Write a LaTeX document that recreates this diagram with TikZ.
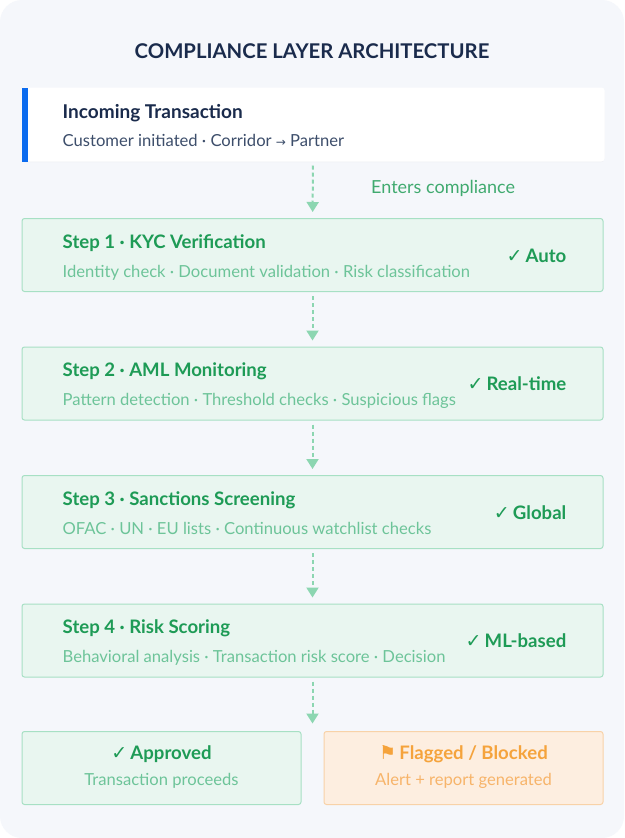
\documentclass[tikz,border=0pt]{standalone}
\usepackage{fontspec}
\setmainfont{Lato}
\newfontfamily\symfont{DejaVu Sans}
\usepackage{tikz}
\usetikzlibrary{positioning}
\usetikzlibrary{calc}
\usetikzlibrary{shadows}
\usetikzlibrary{arrows.meta}
\definecolor{pagebg}{HTML}{F5F7FB}
\definecolor{navy}{HTML}{1A2B4C}
\definecolor{navysub}{HTML}{3D4E6B}
\definecolor{barblue}{HTML}{0B6BEF}
\definecolor{stepfill}{HTML}{E9F6F0}
\definecolor{stepline}{HTML}{A7E0C4}
\definecolor{stepgreen}{HTML}{1E9B56}
\definecolor{subgreen}{HTML}{6DC499}
\definecolor{flowgreen}{HTML}{8CD6B1}
\definecolor{flagfill}{HTML}{FDEEE0}
\definecolor{flagline}{HTML}{F8D2A8}
\definecolor{flagorange}{HTML}{F5A33C}
\definecolor{flagsub}{HTML}{F7B46A}
\tikzset{
	box/.style={
		draw, line width=1pt, rounded corners=2.5pt, inner sep=0pt,
		minimum width=581pt, minimum height=73pt
	},
	stepbox/.style={box, fill=stepfill, draw=stepline},
	endbox/.style={box, minimum width=279pt},
	title/.style={font=\fontsize{18.6}{22}\selectfont\bfseries, text=navy, inner sep=0pt},
	subtitle/.style={font=\fontsize{16.6}{20}\selectfont, text=navysub, inner sep=0pt},
	steptitle/.style={title, text=stepgreen},
	stepsub/.style={subtitle, text=subgreen},
	steptag/.style={title, text=stepgreen},
	flow/.style={
		draw=flowgreen, line width=2pt, dash pattern=on 4pt off 3pt,
		-{Triangle[width=12pt,length=10pt,fill=flowgreen,sep=0pt]},
		shorten <=4pt
	}
}
\def\chk{{\symfont\fontsize{19}{20}\selectfont ✓}\,}
\def\stepinfo#1#2#3#4{%
	\node[steptitle, anchor=base west] (#1-title) at ($(#1.north west)+(41,30)$) {#2};
	\node[stepsub, anchor=base west] (#1-sub) at ($(#1.north west)+(41,59)$) {#3};
	\node[steptag, anchor=base east] (#1-tag) at ($(#1.north east)+(-37,44)$) {\chk#4};
}

\begin{document}
\begin{tikzpicture}[x=1pt, y=-1pt, node distance=54.5pt]
% page
\fill[white] (0,0) rectangle (624,838);
\fill[pagebg, rounded corners=22pt] (0,0) rectangle (624,838);
\useasboundingbox (0,0) rectangle (624,838);

\node[font=\fontsize{20.3}{24}\selectfont\bfseries, text=navy, anchor=base, inner sep=0pt] (heading) at (312,58) {COMPLIANCE LAYER ARCHITECTURE};

% incoming transaction
\node[box, fill=white, draw=white, drop shadow={opacity=0.08, shadow xshift=0pt, shadow yshift=-1pt}, anchor=north west, minimum width=582pt] (inc) at (21.5,87.5) {};
\fill[barblue] (inc.north west) rectangle ($(inc.south west)+(6,0)$);
\node[title, font=\fontsize{19}{22}\selectfont\bfseries, anchor=base west] (inc-title) at ($(inc.north west)+(41,31)$) {Incoming Transaction};
\node[subtitle, anchor=base west] (inc-sub) at ($(inc.north west)+(41,59)$) {Customer initiated · Corridor {\symfont\fontsize{12}{14}\selectfont →} Partner};

% steps
\node[stepbox, below=56.5pt of inc.south west, anchor=north west] (s1) {};
\node[stepbox, below=of s1] (s2) {};
\node[stepbox, below=of s2] (s3) {};
\node[stepbox, below=of s3] (s4) {};

\stepinfo{s1}{Step 1 · KYC Verification}{Identity check · Document validation · Risk classification}{Auto}
\stepinfo{s2}{Step 2 · AML Monitoring}{Pattern detection · Threshold checks · Suspicious flags}{Real-time}
\stepinfo{s3}{Step 3 · Sanctions Screening}{OFAC · UN · EU lists · Continuous watchlist checks}{Global}
\stepinfo{s4}{Step 4 · Risk Scoring}{Behavioral analysis · Transaction risk score · Decision}{ML-based}

% outcomes
\node[endbox, fill=stepfill, draw=stepline, below=53.5pt of s4.south west, anchor=north west] (ok) {};
\node[endbox, fill=flagfill, draw=flagline, below=53.5pt of s4.south east, anchor=north east] (flag) {};
\node[steptitle, anchor=base] (ok-title) at ($(ok.north)+(0,28)$) {\chk Approved};
\node[stepsub, anchor=base] (ok-sub) at ($(ok.north)+(0,54)$) {Transaction proceeds};
\node[steptitle, text=flagorange, anchor=base] (flag-title) at ($(flag.north)+(0,28)$) {{\symfont\fontsize{19}{20}\selectfont ⚑}\,Flagged / Blocked};
\node[stepsub, text=flagsub, anchor=base] (flag-sub) at ($(flag.north)+(0,54)$) {Alert + report generated};
\coordinate (split) at ($(s4.south)+(0,46)$);

% connectors
\draw[flow, shorten >=6pt] (inc) -- (s1);
\node[font=\fontsize{18}{21}\selectfont, text=stepgreen!85!white, anchor=base west, inner sep=0pt] (enter) at (371,193) {Enters compliance};
\draw[flow, shorten >=6pt] (s1) -- (s2);
\draw[flow, shorten >=6pt] (s2) -- (s3);
\draw[flow, shorten >=6pt] (s3) -- (s4);
\draw[flow] (s4) -- (split);
\end{tikzpicture}
\end{document}
